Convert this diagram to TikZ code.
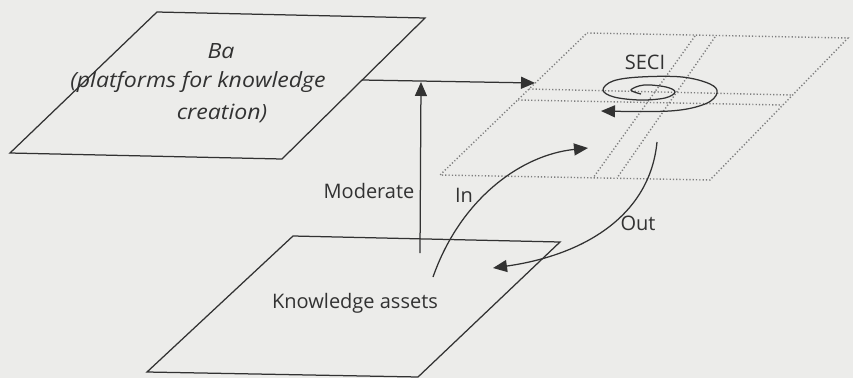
\documentclass[tikz,border=0pt]{standalone}
\usepackage{fontspec}
\setmainfont{Open Sans}
\newfontfamily\bafont{Open Sans}[FakeStretch=1.1]
\usetikzlibrary{arrows.meta}
\definecolor{bgc}{RGB}{236,236,234}
\definecolor{ink}{RGB}{50,50,50}
\definecolor{dotc}{RGB}{125,125,125}
\tikzset{
  edge/.style={draw=ink, line width=1.25pt, line join=miter},
  dotline/.style={draw=dotc, line width=1.4pt, dash pattern=on 1.2pt off 2.1pt},
  conn/.style={draw=ink, line width=1.25pt, -{Triangle[length=14pt,width=12pt]}},
  lab/.style={text=ink, inner sep=0pt, font=\fontsize{20}{22}\selectfont},
  itlab/.style={text=ink, inner sep=0pt, font=\bafont\fontsize{21}{24}\selectfont\itshape},
}
\begin{document}
\begin{tikzpicture}[x=1pt,y=-1pt]
\fill[bgc] (0,0) rectangle (853,378);
\useasboundingbox (0,0) rectangle (853,378);
% Ba plane
\coordinate (ba1) at (157,12);
\coordinate (ba2) at (425,18);
\coordinate (ba3) at (282,159);
\coordinate (ba4) at (10,153);
\draw[edge] (ba1) -- (ba2) -- (ba3) -- (ba4) -- cycle;
\node[itlab] (baA) at (221,51) {Ba};
\node[itlab] (baB) at (198,82) {(platforms for knowledge};
\node[itlab] (baC) at (222,113) {creation)};
% Knowledge assets plane
\coordinate (ka1) at (293,236);
\coordinate (ka2) at (560,242);
\coordinate (ka3) at (418,377);
\coordinate (ka4) at (147,372);
\draw[edge] (ka1) -- (ka2) -- (ka3) -- (ka4) -- cycle;
\node[lab] (kaT) at (355,303) {Knowledge assets};
% SECI plane (dotted)
\coordinate (s1) at (587,33);
\coordinate (s2) at (848,38);
\coordinate (s3) at (710,180);
\coordinate (s4) at (440,175);
\draw[dotline] (s1) -- (s2) -- (s3) -- (s4) -- cycle;
\coordinate (h1a) at (529,89);
\coordinate (h1b) at (792,95);
\coordinate (h2a) at (518,100);
\coordinate (h2b) at (782,105);
\draw[dotline] (h1a) -- (h1b);
\draw[dotline] (h2a) -- (h2b);
\coordinate (d1a) at (695,36);
\coordinate (d1b) at (593,178);
\coordinate (d2a) at (715,37);
\coordinate (d2b) at (617,178);
\draw[dotline] (d1a) -- (d1b);
\draw[dotline] (d2a) -- (d2b);
\node[lab] (seci) at (645,62) {SECI};
% spiral
\draw[conn] plot[smooth, tension=0.6] coordinates {(641,94) (631,90) (644,85) (666,87) (675,92) (665,98) (640,100) (614,97) (603,90) (613,81) (640,77) (682,77) (710,84) (717,93) (705,104) (670,111) (601,111)};
% connectors
\coordinate (baOut) at (362,80);
\coordinate (seciIn) at (535,83);
\draw[conn] (baOut) -- (seciIn);
\coordinate (modS) at (420,253);
\coordinate (modE) at (421,82);
\draw[conn] (modS) -- (modE);
\node[lab] (mod) at (369,191) {Moderate};
\coordinate (inS) at (433,277);
\coordinate (inE) at (588,148);
\draw[conn] (inS) .. controls (460,200) and (520,155) .. (inE);
\node[lab] (inL) at (464,195) {In};
\coordinate (outS) at (657,142);
\coordinate (outE) at (493,268);
\draw[conn] (outS) .. controls (650,215) and (585,255) .. (outE);
\node[lab] (outL) at (638,223) {Out};
\end{tikzpicture}
\end{document}
